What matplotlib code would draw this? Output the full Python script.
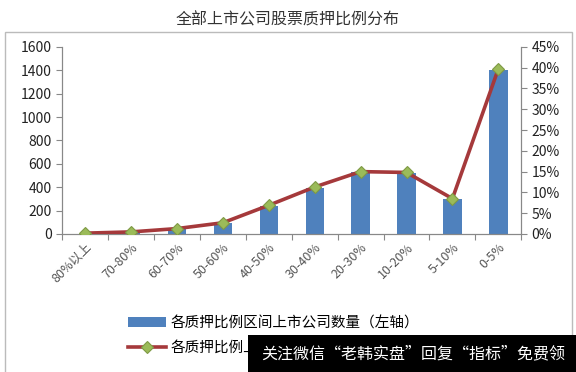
import matplotlib
matplotlib.use("Agg")
import matplotlib.pyplot as plt
from matplotlib.patches import Rectangle
from matplotlib.ticker import PercentFormatter

plt.rcParams['font.family'] = ['Noto Sans CJK SC', 'DejaVu Sans']

# Data
categories = ['80%以上', '70-80%', '60-70%', '50-60%', '40-50%',
              '30-40%', '20-30%', '10-20%', '5-10%', '0-5%']
counts = [4, 12, 45, 92, 240, 395, 530, 525, 295, 1400]
shares = [0.2, 0.5, 1.3, 2.7, 6.9, 11.3, 15.0, 14.8, 8.5, 39.7]

bar_label = '各质押比例区间上市公司数量（左轴）'
line_label = '各质押比例上市公司数量占比（右轴）'
title = '全部上市公司股票质押比例分布'
watermark = '关注微信“老韩实盘”回复“指标”免费领'

fig = plt.figure(figsize=(5.76, 3.72), dpi=100)
ax = fig.add_axes([0.108, 0.371, 0.797, 0.503])
ax2 = ax.twinx()

x = range(len(categories))
bars = ax.bar(x, counts, width=0.4, color='#4F81BD', label=bar_label, zorder=2)
line, = ax2.plot(x, shares, color='#A5393B', lw=2.6, marker='D', ms=6,
                 mfc='#9BBB59', mec='#7F9A45', mew=0.8, label=line_label, zorder=3)

ax.set_xlim(-0.5, len(categories) - 0.5)
ax.set_ylim(0, 1600)
ax.set_yticks(range(0, 1601, 200))
ax2.set_ylim(0, 45)
ax2.set_yticks(range(0, 46, 5))
ax2.yaxis.set_major_formatter(PercentFormatter(decimals=0))

# ticks between categories, labels centred under bars
ax.set_xticks([i + 0.5 for i in range(-1, len(categories))])
ax.set_xticklabels([])
ax.set_xticks(list(x), minor=True)
ax.set_xticklabels(categories, minor=True, rotation=45, ha='right',
                   rotation_mode='anchor', fontsize=9, color='#555555')
ax.tick_params(axis='x', which='minor', length=0, pad=5)
ax.tick_params(axis='x', which='major', length=4, color='#888888')

for a in (ax, ax2):
    for s in a.spines.values():
        s.set_color('#888888')
    a.spines['top'].set_visible(False)
ax.tick_params(axis='y', labelsize=10, color='#888888', length=4, labelcolor='#222222')
ax2.tick_params(axis='y', labelsize=10, color='#888888', length=4, labelcolor='#222222')

fig.text(0.5, 0.947, title, ha='center', va='center', fontsize=11.5, color='#333333')

fig.legend([bars, line], [bar_label, line_label], loc='center left',
           bbox_to_anchor=(0.2, 0.097), frameon=False, fontsize=10.5,
           handlelength=2.6, handletextpad=0.3, labelspacing=0.75, ncol=1)

# chart border
fig.patches.append(Rectangle((0.009, -0.01), 0.984, 0.925, transform=fig.transFigure,
                             fill=False, ec='#BBBBBB', lw=1))

# watermark overlay
fig.patches.append(Rectangle((0.431, 0.0), 0.569, 0.1, transform=fig.transFigure,
                             fc='black', ec='none', zorder=10))
fig.text(0.718, 0.05, watermark, ha='center', va='center', fontsize=11.5,
         color='white', zorder=11)

fig.savefig('out.png', dpi=100)
